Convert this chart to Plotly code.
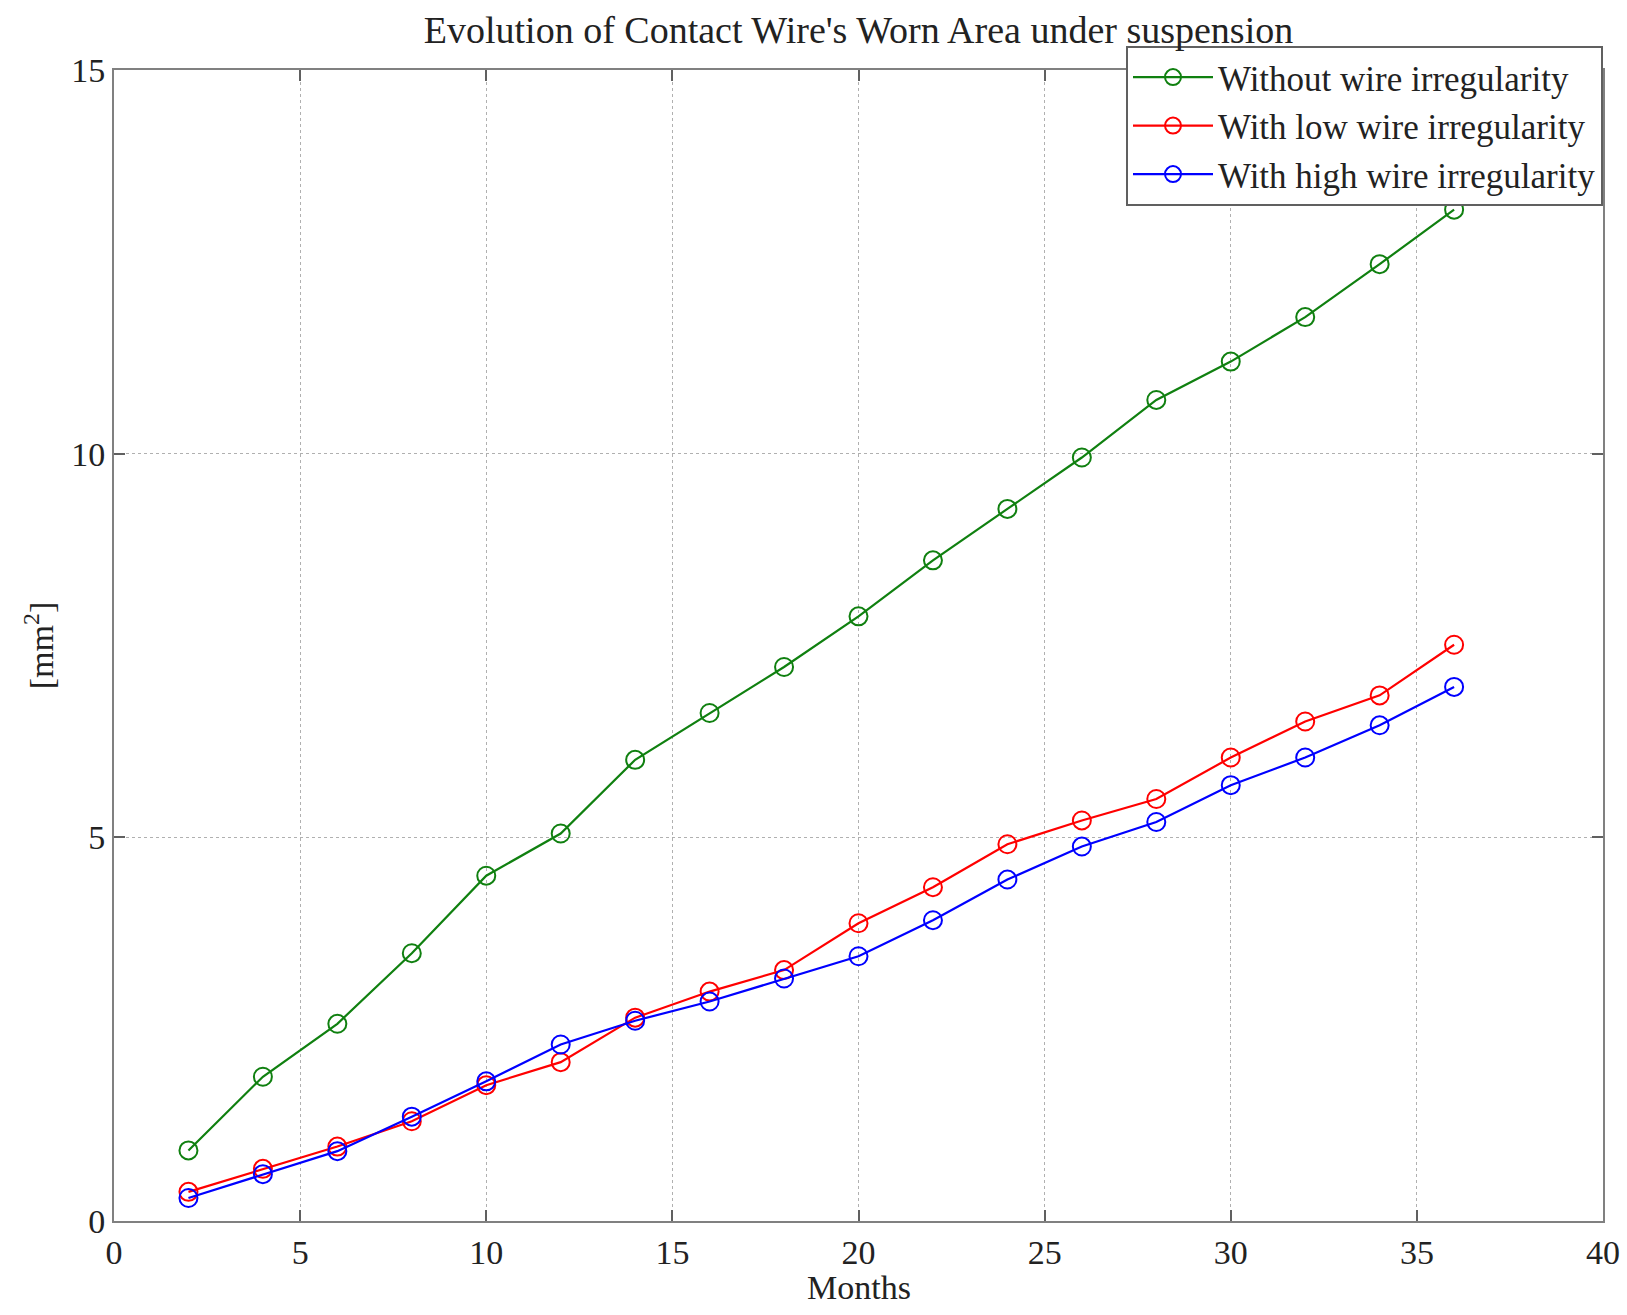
import plotly.graph_objects as go

months = [2, 4, 6, 8, 10, 12, 14, 16, 18, 20, 22, 24, 26, 28, 30, 32, 34, 36]
without_irr = [0.92, 1.88, 2.57, 3.49, 4.50, 5.05, 6.01, 6.62, 7.22, 7.88, 8.61, 9.28,
               9.95, 10.70, 11.20, 11.78, 12.47, 13.18]
low_irr = [0.38, 0.68, 0.97, 1.30, 1.77, 2.07, 2.65, 2.99, 3.27, 3.88, 4.35, 4.91,
           5.22, 5.50, 6.04, 6.51, 6.85, 7.51]
high_irr = [0.30, 0.61, 0.91, 1.36, 1.82, 2.30, 2.61, 2.86, 3.16, 3.45, 3.92, 4.45,
            4.88, 5.20, 5.68, 6.04, 6.46, 6.96]
series_names = ["Without wire irregularity", "With low wire irregularity",
                "With high wire irregularity"]
colors = ["#108010", "#ff0000", "#0000ff"]
x_ticks = [0, 5, 10, 15, 20, 25, 30, 35, 40]
y_ticks = [0, 5, 10, 15]

FONT = "Liberation Serif, Times New Roman, serif"
TXT = "#222"

fig = go.Figure()
for name, vals, col in zip(series_names, [without_irr, low_irr, high_irr], colors):
    fig.add_trace(go.Scatter(
        x=months, y=vals, name=name, mode="lines+markers",
        line=dict(color=col, width=2.2),
        marker=dict(symbol="circle-open", size=18, color=col, line=dict(width=2, color=col)),
    ))

axis_common = dict(
    showline=True, linecolor="#808080", linewidth=2, mirror="ticks",
    ticks="inside", ticklen=11, tickwidth=2, tickcolor="#606060",
    showgrid=True, gridcolor="#b0b0b0", griddash="dot", gridwidth=1,
    zeroline=False, tickfont=dict(family=FONT, size=34, color=TXT),
    automargin=False,
)

fig.update_layout(
    width=1627, height=1315,
    margin=dict(l=114, r=24, t=70, b=94),
    paper_bgcolor="white", plot_bgcolor="white",
    title=dict(text="Evolution of Contact Wire's Worn Area under suspension",
               x=0.5, xanchor="center", xref="paper", y=1 - 30 / 1315, yanchor="middle",
               font=dict(family=FONT, size=38, color=TXT)),
    xaxis=dict(range=[0, 40], tickvals=x_ticks, **axis_common),
    yaxis=dict(range=[0, 15], tickvals=y_ticks,
               title=dict(text="[mm<sup>2</sup>]", font=dict(family=FONT, size=34, color=TXT), standoff=7),
               **axis_common),
    legend=dict(x=1, xanchor="right", y=1.021, yanchor="top",
                bgcolor="white", bordercolor="#606060", borderwidth=2,
                font=dict(family=FONT, size=35, color=TXT),
                itemwidth=80, tracegroupgap=0),
    showlegend=True,
)

fig.add_annotation(text="Months", xref="paper", yref="paper", x=0.5, y=-66 / 1151,
                   xanchor="center", yanchor="middle", showarrow=False,
                   font=dict(family=FONT, size=34, color=TXT))

fig.write_html("out.html")
